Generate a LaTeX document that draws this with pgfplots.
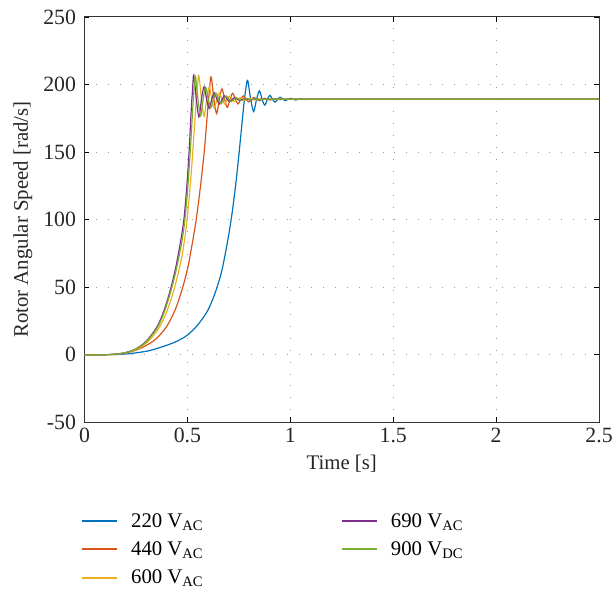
\documentclass[border=0pt]{standalone}
\usepackage{fontspec}
\setmainfont{Liberation Serif}
\usepackage{pgfplots}
\pgfplotsset{compat=1.18}
\definecolor{c220}{rgb}{0,0.447,0.741}
\definecolor{c440}{rgb}{0.85,0.325,0.098}
\definecolor{c600}{rgb}{0.929,0.694,0.125}
\definecolor{c690}{rgb}{0.494,0.184,0.556}
\definecolor{c900}{rgb}{0.466,0.674,0.188}
\begin{document}
\begin{tikzpicture}
\begin{axis}[
  scale only axis,
  width=518bp, height=408bp,
  xmin=0, xmax=2.5, ymin=-50, ymax=250,
  xtick={0,0.5,1,1.5,2,2.5},
  ytick={-50,0,50,100,150,200,250},
  xticklabels={0,0.5,1,1.5,2,2.5},
  yticklabels={-50,0,50,100,150,200,250},
  tick align=inside, tick pos=both,
  major tick length=5bp,
  every tick/.style={black, line width=0.6pt},
  axis line style={line width=0.8pt, black!80},
  grid=major,
  major grid style={gray!80, line width=0.8pt, dash pattern=on 1bp off 11bp},
  tick label style={font=\fontsize{22}{25}\selectfont, black!85},
  yticklabel style={xshift=-5bp},
  xticklabel style={yshift=-2bp},
  label style={font=\fontsize{21}{24}\selectfont, black!85},
  xlabel={Time [s]},
  ylabel={Rotor Angular Speed [rad/s]},
  xlabel style={at={(axis description cs:0.5,-0.103)}, anchor=center},
  ylabel style={at={(axis description cs:-0.1197,0.5)}, anchor=center},
  every axis plot/.append style={line width=1.2pt, smooth},
  legend columns=2,
  legend cell align=left,
  legend style={draw=none, fill=none, at={(axis description cs:-0.012,-0.215)}, anchor=north west,
    font=\fontsize{21}{24}\selectfont, row sep=9bp,
    /tikz/column 1/.style={column sep=11bp},
    /tikz/column 2/.style={column sep=137bp},
    /tikz/column 3/.style={column sep=11bp}},
]
\addplot[color=c220, forget plot] coordinates {
(0,0) (0.1,0) (0.2,0.5) (0.3,2.5) (0.35,4.5) (0.4,7) (0.45,10) (0.5,14.5) (0.55,22) (0.6,33)
(0.64,48) (0.67,64) (0.7,88) (0.72,108) (0.74,133) (0.76,163) (0.775,186) (0.785,198)
(0.793,203) (0.8075,189) (0.822,180) (0.836,189) (0.85,195.2) (0.863,189) (0.876,184.7)
(0.8885,189) (0.901,192) (0.9135,189) (0.926,186.9) (0.9385,189) (0.951,190.5) (0.9635,189)
(0.976,187.95) (0.9885,189) (1.001,189.75) (1.0135,189) (1.026,188.5) (1.0385,189)
(1.051,189.36) (1.0635,189) (1.076,188.75) (1.0885,189) (1.3,189) (2.5,189)};
\addplot[color=c440, forget plot] coordinates {
(0,0) (0.1,0) (0.15,0.3) (0.2,1.3) (0.25,3.3) (0.3,6.8) (0.35,12) (0.4,21) (0.44,33) (0.47,46)
(0.5,63) (0.52,79) (0.54,97) (0.555,114) (0.57,133) (0.583,152) (0.598,180) (0.609,199)
(0.616,205.5) (0.629,189) (0.642,178.5) (0.655,189) (0.668,196.8) (0.681,189) (0.694,183)
(0.707,189) (0.72,193.5) (0.733,189) (0.746,185.6) (0.759,189) (0.772,191.5) (0.785,189)
(0.798,187.1) (0.811,189) (0.824,190.4) (0.837,189) (0.85,187.9) (0.863,189) (0.876,189.8)
(0.889,189) (0.902,188.4) (0.915,189) (0.928,189.45) (0.941,189) (0.954,188.66) (0.967,189)
(1.2,189) (2.5,189)};
\addplot[color=c600, forget plot] coordinates {
(0,0) (0.1,0) (0.15,0.3) (0.2,1.3) (0.25,3.5) (0.3,8.5) (0.35,17) (0.38,25) (0.41,36)
(0.44,51) (0.47,70) (0.49,89) (0.503,107) (0.518,133) (0.532,163) (0.543,188) (0.55,201)
(0.556,206.5) (0.5685,189) (0.581,176.4) (0.5935,189) (0.606,198.1) (0.6185,189)
(0.631,182.5) (0.6435,189) (0.656,193.7) (0.6685,189) (0.681,185.6) (0.6935,189)
(0.706,191.4) (0.7185,189) (0.731,187.25) (0.7435,189) (0.756,190.25) (0.7685,189)
(0.781,188.1) (0.7935,189) (0.806,189.65) (0.8185,189) (0.831,188.53) (0.8435,189)
(0.856,189.34) (0.8685,189) (1.1,189) (2.5,189)};
\addplot[color=c690, forget plot] coordinates {
(0,0) (0.1,0) (0.15,0.4) (0.2,1.6) (0.25,4.3) (0.3,10) (0.35,20) (0.38,30) (0.41,44) (0.44,62)
(0.465,82) (0.483,100) (0.498,126) (0.509,152) (0.519,182) (0.526,198) (0.531,207)
(0.5435,189) (0.556,176) (0.5685,189) (0.581,198.3) (0.5935,189) (0.606,182.3) (0.6185,189)
(0.631,193.8) (0.6435,189) (0.656,185.5) (0.6685,189) (0.681,191.5) (0.6935,189)
(0.706,187.2) (0.7185,189) (0.731,190.3) (0.7435,189) (0.756,188.1) (0.7685,189)
(0.781,189.7) (0.7935,189) (0.806,188.5) (0.8185,189) (0.831,189.35) (0.8435,189)
(0.856,188.75) (0.8685,189) (1.1,189) (2.5,189)};
\addplot[color=c900, forget plot] coordinates {
(0,0) (0.1,0) (0.15,0.4) (0.2,1.5) (0.25,4.1) (0.3,9.5) (0.35,19) (0.38,28.5) (0.41,42)
(0.44,59) (0.47,81) (0.488,100) (0.503,126) (0.515,153) (0.526,182) (0.533,198) (0.539,206)
(0.5515,189) (0.564,176.8) (0.5765,189) (0.589,197.8) (0.6015,189) (0.614,182.7) (0.6265,189)
(0.639,193.6) (0.6515,189) (0.664,185.7) (0.6765,189) (0.689,191.4) (0.7015,189)
(0.714,187.3) (0.7265,189) (0.739,190.2) (0.7515,189) (0.764,188.1) (0.7765,189)
(0.789,189.6) (0.8015,189) (0.814,188.55) (0.8265,189) (0.839,189.3) (0.8515,189)
(1.1,189) (2.5,189)};
\addlegendimage{legend image code/.code={\draw[c220, line width=2pt] (0bp,0bp) -- (35bp,0bp);}}
\addlegendentry{220 V\textsubscript{AC}}
\addlegendimage{legend image code/.code={\draw[c690, line width=2pt] (0bp,0bp) -- (35bp,0bp);}}
\addlegendentry{690 V\textsubscript{AC}}
\addlegendimage{legend image code/.code={\draw[c440, line width=2pt] (0bp,0bp) -- (35bp,0bp);}}
\addlegendentry{440 V\textsubscript{AC}}
\addlegendimage{legend image code/.code={\draw[c900, line width=2pt] (0bp,0bp) -- (35bp,0bp);}}
\addlegendentry{900 V\textsubscript{DC}}
\addlegendimage{legend image code/.code={\draw[c600, line width=2pt] (0bp,0bp) -- (35bp,0bp);}}
\addlegendentry{600 V\textsubscript{AC}}
\end{axis}
\pgfresetboundingbox
\path (-85bp,-176bp) rectangle (534bp,425bp);
\end{tikzpicture}
\end{document}
